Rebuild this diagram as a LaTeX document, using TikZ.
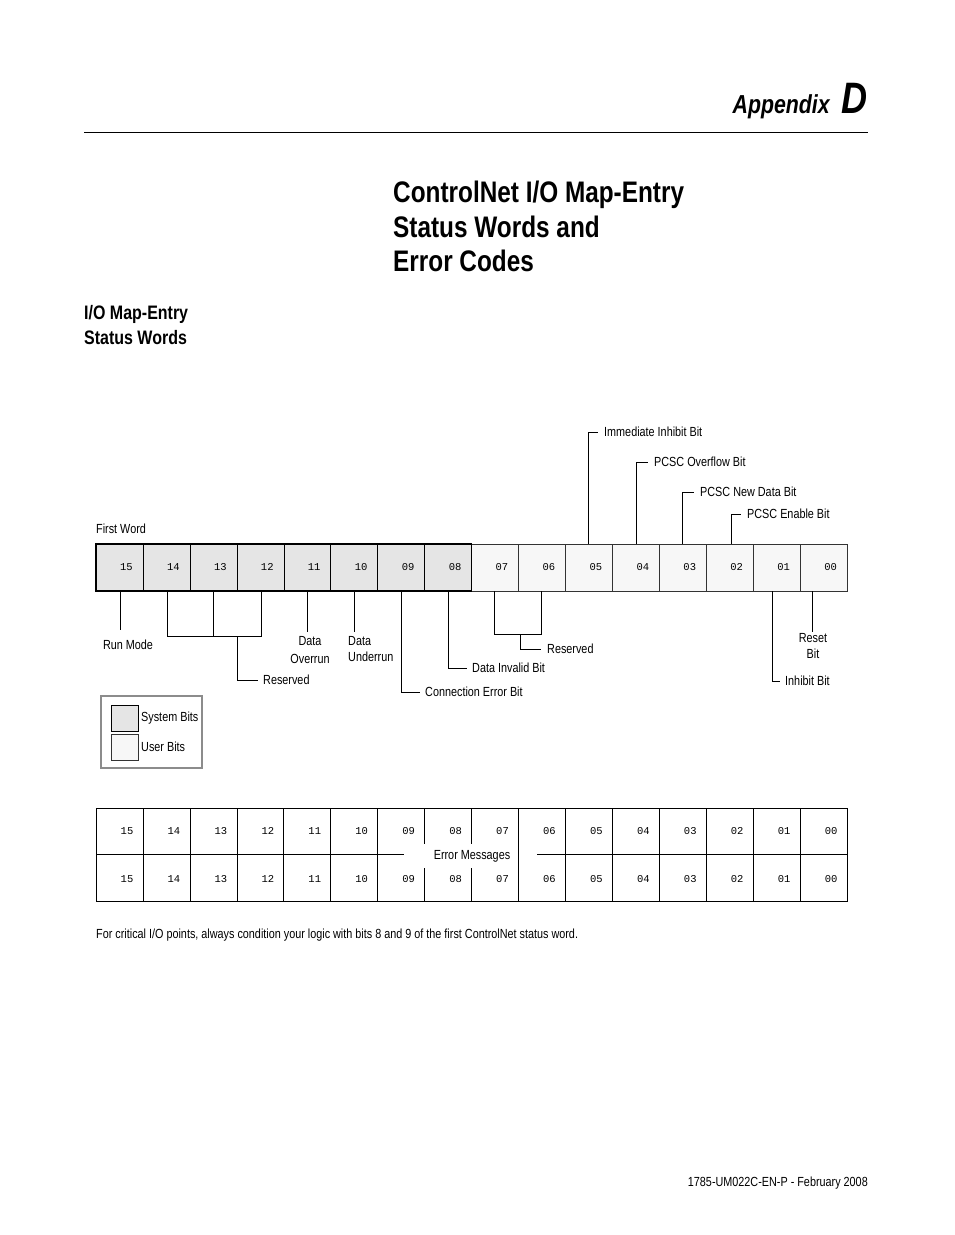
\documentclass[tikz,border=0pt]{standalone}
\usepackage{fontspec}
\setmainfont[FakeStretch=0.82]{Liberation Sans}
\newfontfamily\monof{Liberation Mono}
\begin{document}
\begin{tikzpicture}[x=1pt,y=-1pt,
  lbl/.style={font=\fontsize{13.2}{15}\selectfont,inner sep=0pt},
  num/.style={font=\monof\fontsize{10.5}{12}\selectfont,inner sep=0pt},
  sys/.style={draw=black,fill=black!10,line width=0.5pt},
  usr/.style={draw=black!80,fill=black!3,line width=0.5pt},
  ln/.style={line width=0.6pt}]
\useasboundingbox (0,0) rectangle (954,1235);
% header
\draw[line width=0.6pt] (84,132) -- (868,132);
\node[anchor=base east,inner sep=0pt] (app) at (868,113) {\fontsize{26}{28}\selectfont\bfseries\itshape Appendix\hspace{12pt}{\fontsize{44}{44}\selectfont D}};
\node[anchor=north west,inner sep=0pt,align=left,font=\fontsize{29.7}{34.3}\selectfont\bfseries] (title) at (393,181) {ControlNet I/O Map-Entry\\Status Words and\\Error Codes};
\node[anchor=north west,inner sep=0pt,align=left,font=\fontsize{19.5}{25}\selectfont\bfseries] (sec) at (84,305) {I/O Map-Entry\\Status Words};
\node[lbl,anchor=base west] (fw) at (96,533) {First Word};
% top register
\foreach \i in {0,...,15}{
  \pgfmathtruncatemacro\b{15-\i}
  \pgfmathsetmacro\xa{96+46.94*\i}
  \pgfmathsetmacro\xb{96+46.94*(\i+1)}
  \ifnum\b>7 \def\st{sys}\else\def\st{usr}\fi
  \draw[\st] (\xa,544) rectangle (\xb,591);
  \node[num] (t\b) at ({(\xa+\xb)/2+7},567) {\ifnum\b<10 0\fi\b};
}
\draw[line width=1.5pt] (96,544) rectangle (471.5,591);
% below lines
\draw[ln] (120,591) -- (120,630);
\node[lbl,anchor=base] (rm) at (128,649) {Run Mode};
\draw[ln] (167,591) -- (167,636) -- (261,636) -- (261,591);
\draw[ln] (213,591) -- (213,636);
\draw[ln] (237,636) -- (237,680) -- (258,680);
\node[lbl,anchor=west] (res1) at (263,680) {Reserved};
\draw[ln] (307,591) -- (307,632);
\node[lbl,align=center,anchor=north] (dov) at (310,636) {Data\\[3pt]Overrun};
\draw[ln] (354,591) -- (354,632);
\node[lbl,align=left,anchor=north west] (dun) at (348,636) {Data\\[1pt]Underrun};
\draw[ln] (401,591) -- (401,692) -- (420,692);
\node[lbl,anchor=west] (ceb) at (425,692) {Connection Error Bit};
\draw[ln] (448,591) -- (448,668) -- (467,668);
\node[lbl,anchor=west] (dib) at (472,668) {Data Invalid Bit};
\draw[ln] (494,591) -- (494,634) -- (541,634) -- (541,591);
\draw[ln] (520,634) -- (520,649) -- (541,649);
\node[lbl,anchor=west] (res2) at (547,649) {Reserved};
\draw[ln] (772,591) -- (772,681) -- (780,681);
\node[lbl,anchor=west] (inb) at (785,681) {Inhibit Bit};
\draw[ln] (812,591) -- (812,632);
\node[lbl,align=center,anchor=north] (rst) at (813,633) {Reset\\[1pt]Bit};
% above lines
\draw[ln] (588,544) -- (588,432) -- (598,432);
\node[lbl,anchor=west] (iib) at (604,432) {Immediate Inhibit Bit};
\draw[ln] (636,544) -- (636,462) -- (648,462);
\node[lbl,anchor=west] (pob) at (654,462) {PCSC Overflow Bit};
\draw[ln] (682,544) -- (682,492) -- (694,492);
\node[lbl,anchor=west] (pnd) at (700,492) {PCSC New Data Bit};
\draw[ln] (731,544) -- (731,514) -- (741,514);
\node[lbl,anchor=west] (peb) at (747,514) {PCSC Enable Bit};
% legend
\draw[draw=black!45,line width=1.6pt] (101,696) rectangle (202,768);
\draw[sys] (111,705) rectangle (138,731);
\draw[usr] (111,734) rectangle (138,760);
\node[lbl,anchor=west] (ls) at (141,718) {System Bits};
\node[lbl,anchor=west] (lu) at (141,747) {User Bits};
% lower table
\draw[ln] (96,808) rectangle (847,901);
\draw[ln] (96,854) -- (404,854);
\draw[ln] (537,854) -- (847,854);
\node[lbl,anchor=center] (em) at (472,856) {Error Messages};
\foreach \i in {1,...,15}{
  \pgfmathsetmacro\xa{96+46.94*\i}
  \ifnum\i=7 \draw[ln] (\xa,808)--(\xa,844) (\xa,868)--(\xa,901);
  \else\ifnum\i=8 \draw[ln] (\xa,808)--(\xa,844) (\xa,868)--(\xa,901);
  \else \draw[ln] (\xa,808)--(\xa,901);\fi\fi
}
\foreach \i in {0,...,15}{
  \pgfmathtruncatemacro\b{15-\i}
  \pgfmathsetmacro\xc{96+46.94*\i+31}
  \node[num] (a\b) at (\xc,831) {\ifnum\b<10 0\fi\b};
  \node[num] (b\b) at (\xc,879) {\ifnum\b<10 0\fi\b};
}
\node[lbl,anchor=base west] (note) at (96,938) {For critical I/O points, always condition your logic with bits 8 and 9 of the first ControlNet status word.};
\node[lbl,anchor=base east] (foot) at (868,1186) {1785-UM022C-EN-P - February 2008};
\end{tikzpicture}
\end{document}
